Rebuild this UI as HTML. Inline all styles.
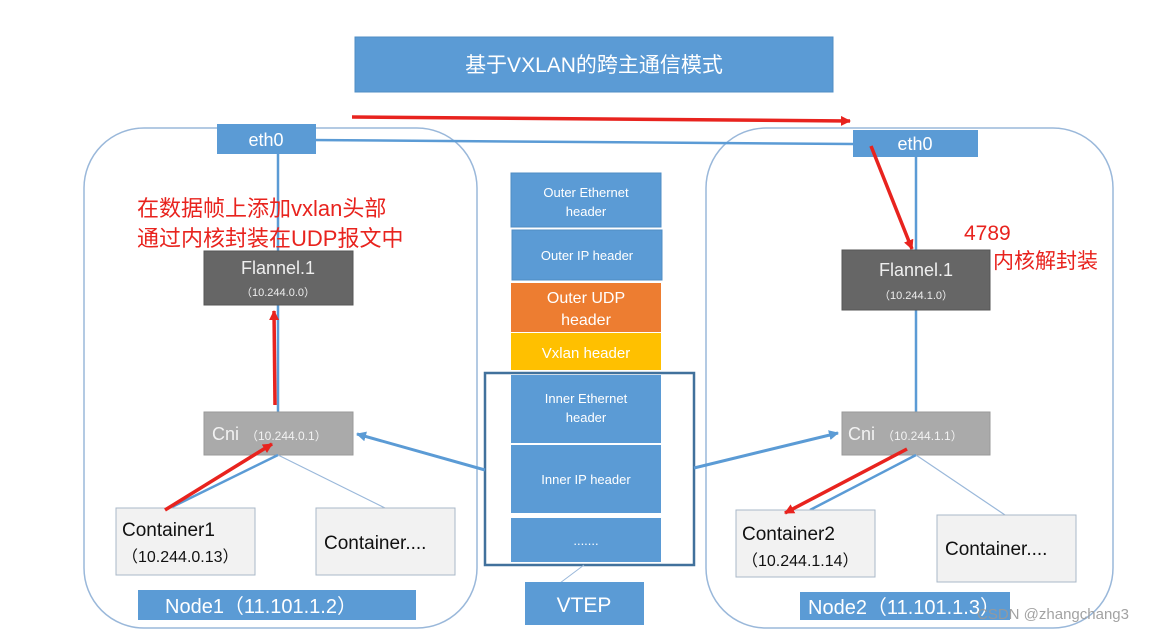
<!DOCTYPE html>
<html><head><meta charset="utf-8"><style>
body{margin:0;background:#fff;}
svg{display:block;font-family:"Liberation Sans","Noto Sans CJK SC",sans-serif;}
</style></head><body>
<svg width="1152" height="633" viewBox="0 0 1152 633" xmlns="http://www.w3.org/2000/svg">
<defs>
<marker id="ra" markerWidth="10" markerHeight="10" refX="9" refY="5" orient="auto" markerUnits="userSpaceOnUse"><path d="M0,0 L10,5 L0,10 z" fill="#e8231e"/></marker>
<marker id="ba" markerWidth="10" markerHeight="10" refX="9" refY="5" orient="auto" markerUnits="userSpaceOnUse"><path d="M0,0 L10,5 L0,10 z" fill="#5b9bd5"/></marker>
</defs>
<rect width="1152" height="633" fill="#fff"/>
<rect x="355" y="37" width="478" height="55" fill="#5b9bd5" stroke="#4f8cc4"/>
<text x="594" y="72" font-size="21" fill="#fff" text-anchor="middle">基于VXLAN的跨主通信模式</text>
<rect x="84" y="128" width="393" height="500" rx="60" fill="none" stroke="#9ab8da" stroke-width="1.5"/>
<rect x="706" y="128" width="407" height="500" rx="60" fill="none" stroke="#9ab8da" stroke-width="1.5"/>
<line x1="310" y1="140" x2="853" y2="144" stroke="#5b9bd5" stroke-width="2.5"/>
<line x1="278" y1="154" x2="278" y2="412" stroke="#5b9bd5" stroke-width="2.5"/>
<line x1="916" y1="157" x2="916" y2="412" stroke="#5b9bd5" stroke-width="2.5"/>
<line x1="352" y1="117" x2="850" y2="121" stroke="#e8231e" stroke-width="3.5" marker-end="url(#ra)"/>
<rect x="217" y="124" width="99" height="30" fill="#5b9bd5"/>
<text x="266" y="146" font-size="18" fill="#fff" text-anchor="middle">eth0</text>
<rect x="853" y="130" width="125" height="27" fill="#5b9bd5"/>
<text x="915" y="150" font-size="18" fill="#fff" text-anchor="middle">eth0</text>
<rect x="204" y="251" width="149" height="54" fill="#666" stroke="#555"/>
<text x="278" y="274" font-size="18" fill="#eee" text-anchor="middle">Flannel.1</text>
<text x="278" y="296" font-size="11" fill="#eee" text-anchor="middle">（10.244.0.0）</text>
<rect x="842" y="250" width="148" height="60" fill="#666" stroke="#555"/>
<text x="916" y="276" font-size="18" fill="#eee" text-anchor="middle">Flannel.1</text>
<text x="916" y="299" font-size="11" fill="#eee" text-anchor="middle">（10.244.1.0）</text>
<text x="137" y="216" font-size="22" fill="#e8231e">在数据帧上添加vxlan头部</text>
<text x="137" y="246" font-size="22" fill="#e8231e">通过内核封装在UDP报文中</text>
<text x="964" y="240" font-size="21" fill="#e8231e">4789</text>
<text x="993" y="268" font-size="21" fill="#e8231e">内核解封装</text>
<rect x="204" y="412" width="149" height="43" fill="#aaa" stroke="#999"/>
<text x="212" y="440" font-size="18" fill="#f2f2f2">Cni</text>
<text x="246" y="440" font-size="12" fill="#f2f2f2">（10.244.0.1）</text>
<rect x="842" y="412" width="148" height="43" fill="#aaa" stroke="#999"/>
<text x="848" y="440" font-size="18" fill="#f2f2f2">Cni</text>
<text x="882" y="440" font-size="12" fill="#f2f2f2">（10.244.1.1）</text>
<line x1="278" y1="455" x2="170" y2="508" stroke="#5b9bd5" stroke-width="2.5"/>
<line x1="278" y1="455" x2="385" y2="508" stroke="#9ab8da" stroke-width="1.2"/>
<line x1="916" y1="455" x2="810" y2="510" stroke="#5b9bd5" stroke-width="2.5"/>
<line x1="916" y1="455" x2="1005" y2="515" stroke="#9ab8da" stroke-width="1.2"/>
<rect x="116" y="508" width="139" height="67" fill="#f2f2f2" stroke="#aab8c8"/>
<text x="122" y="536" font-size="19" fill="#111">Container1</text>
<text x="122" y="562" font-size="16" fill="#111">（10.244.0.13）</text>
<rect x="316" y="508" width="139" height="67" fill="#f2f2f2" stroke="#aab8c8"/>
<text x="324" y="549" font-size="19" fill="#111">Container....</text>
<rect x="736" y="510" width="139" height="67" fill="#f2f2f2" stroke="#aab8c8"/>
<text x="742" y="540" font-size="19" fill="#111">Container2</text>
<text x="742" y="566" font-size="16" fill="#111">（10.244.1.14）</text>
<rect x="937" y="515" width="139" height="67" fill="#f2f2f2" stroke="#aab8c8"/>
<text x="945" y="555" font-size="19" fill="#111">Container....</text>
<line x1="275" y1="405" x2="274" y2="311" stroke="#e8231e" stroke-width="3.5" marker-end="url(#ra)"/>
<line x1="165" y1="510" x2="272" y2="444" stroke="#e8231e" stroke-width="3.5" marker-end="url(#ra)"/>
<line x1="871" y1="146" x2="912" y2="249" stroke="#e8231e" stroke-width="3.5" marker-end="url(#ra)"/>
<line x1="907" y1="449" x2="785" y2="513" stroke="#e8231e" stroke-width="3.5" marker-end="url(#ra)"/>
<rect x="138" y="590" width="278" height="30" fill="#5b9bd5"/>
<text x="165" y="613" font-size="20" fill="#fff">Node1（11.101.1.2）</text>
<rect x="800" y="592" width="210" height="28" fill="#5b9bd5"/>
<text x="808" y="614" font-size="20" fill="#fff">Node2（11.101.1.3）</text>
<rect x="511" y="173" width="150" height="54" fill="#5b9bd5" stroke="#4f8cc4"/>
<text x="586" y="197" font-size="13" fill="#fff" text-anchor="middle">Outer Ethernet</text>
<text x="586" y="216" font-size="13" fill="#fff" text-anchor="middle">header</text>
<rect x="512" y="230" width="150" height="50" fill="#5b9bd5" stroke="#4f8cc4"/>
<text x="587" y="260" font-size="13" fill="#fff" text-anchor="middle">Outer IP header</text>
<rect x="511" y="283" width="150" height="49" fill="#ed7d31"/>
<text x="586" y="303" font-size="16" fill="#fff" text-anchor="middle">Outer UDP</text>
<text x="586" y="325" font-size="16" fill="#fff" text-anchor="middle">header</text>
<rect x="511" y="333" width="150" height="37" fill="#ffc000"/>
<text x="586" y="358" font-size="15" fill="#fff" text-anchor="middle">Vxlan header</text>
<rect x="511" y="375" width="150" height="68" fill="#5b9bd5"/>
<text x="586" y="403" font-size="13" fill="#fff" text-anchor="middle">Inner  Ethernet</text>
<text x="586" y="422" font-size="13" fill="#fff" text-anchor="middle">header</text>
<rect x="511" y="445" width="150" height="68" fill="#5b9bd5"/>
<text x="586" y="484" font-size="13" fill="#fff" text-anchor="middle">Inner  IP header</text>
<rect x="511" y="518" width="150" height="44" fill="#5b9bd5"/>
<text x="586" y="545" font-size="13" fill="#fff" text-anchor="middle">.......</text>
<rect x="485" y="373" width="209" height="192" fill="none" stroke="#41719c" stroke-width="2.5"/>
<line x1="485" y1="470" x2="357" y2="434" stroke="#5b9bd5" stroke-width="3" marker-end="url(#ba)"/>
<line x1="694" y1="468" x2="838" y2="433" stroke="#5b9bd5" stroke-width="3" marker-end="url(#ba)"/>
<line x1="584" y1="565" x2="560" y2="583" stroke="#9ab8da" stroke-width="1"/>
<rect x="525" y="582" width="119" height="43" fill="#5b9bd5"/>
<text x="584" y="612" font-size="21" fill="#fff" text-anchor="middle">VTEP</text>
<text x="977" y="619" font-size="15" fill="#999" opacity="0.9">CSDN @zhangchang3</text>
</svg>
</body></html>
